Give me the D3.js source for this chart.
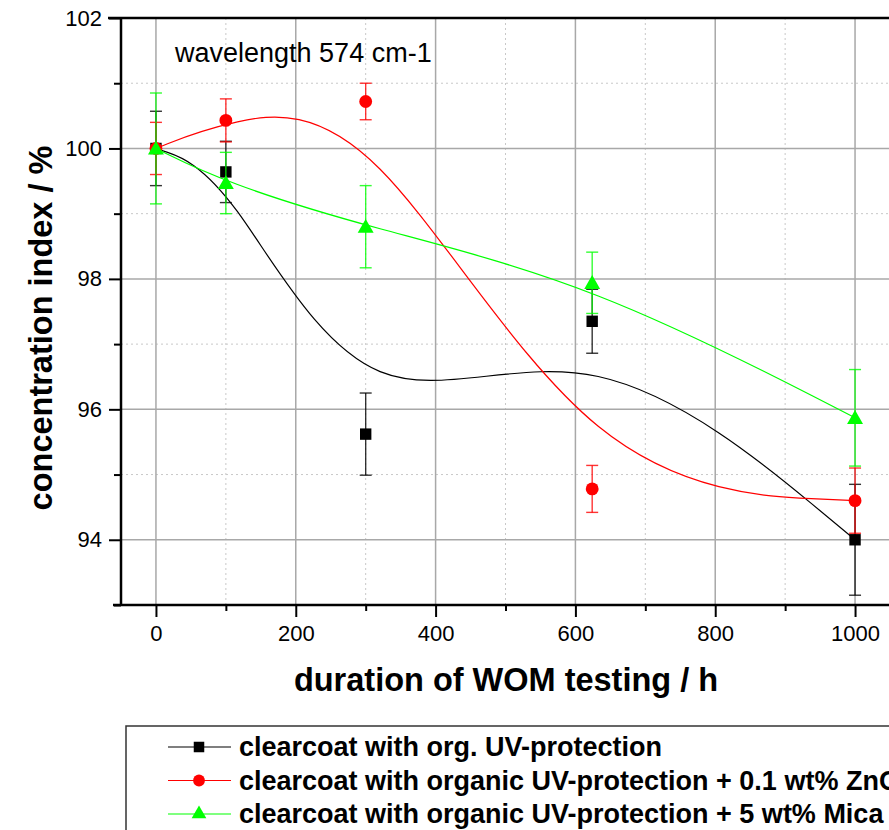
<!DOCTYPE html>
<html>
<head>
<meta charset="utf-8">
<script src="https://cdnjs.cloudflare.com/ajax/libs/d3/7.8.5/d3.min.js"></script>
<style>
  body { margin: 0; background: #fff; }
  svg { display: block; font-family: Arial, "Liberation Sans", sans-serif; }
</style>
</head>
<body>
<div id="chart"></div>
<script>
// values
var hours = [0, 100, 300, 624, 1000];
var orgUV = [100, 99.64, 95.62, 97.35, 94.0];
var orgUVErr = [0.57, 0.47, 0.63, 0.49, 0.85];
var zno = [100, 100.43, 100.72, 94.78, 94.6];
var znoErr = [0.4, 0.33, 0.28, 0.36, 0.5];
var mica = [100, 99.47, 98.8, 97.94, 95.87];
var micaErr = [0.85, 0.47, 0.63, 0.47, 0.74];

var xMajor = [0, 200, 400, 600, 800, 1000];
var xMinor = [100, 300, 500, 700, 900];
var yMajor = [94, 96, 98, 100, 102];
var yMinor = [93, 95, 97, 99, 101];

var seriesNames = [
  "clearcoat with org. UV-protection",
  "clearcoat with organic UV-protection + 0.1 wt% ZnO",
  "clearcoat with organic UV-protection + 5 wt% Mica"
];

var W = 889, H = 830;
var margin = {top: 18, right: -1, bottom: 225, left: 121};
var width = W - margin.left - margin.right,
    height = H - margin.top - margin.bottom;

var x = d3.scaleLinear().domain([-50, 1050]).range([0, width]);
var y = d3.scaleLinear().domain([93, 102]).range([height, 0]);

var svg = d3.select("#chart").append("svg")
    .attr("width", W)
    .attr("height", H);

var g = svg.append("g")
    .attr("transform", "translate(" + margin.left + "," + margin.top + ")");

// grid
g.selectAll(".vminor").data(xMinor).enter().append("line")
    .attr("x1", function(d) { return x(d); }).attr("x2", function(d) { return x(d); })
    .attr("y1", 0).attr("y2", height)
    .attr("stroke", "#c8c8c8").attr("stroke-width", 1).attr("stroke-dasharray", "2,3");
g.selectAll(".hminor").data(yMinor.filter(function(d){ return d > 93; })).enter().append("line")
    .attr("y1", function(d) { return y(d); }).attr("y2", function(d) { return y(d); })
    .attr("x1", 0).attr("x2", width)
    .attr("stroke", "#c8c8c8").attr("stroke-width", 1).attr("stroke-dasharray", "2,3");
g.selectAll(".vmajor").data(xMajor).enter().append("line")
    .attr("x1", function(d) { return x(d); }).attr("x2", function(d) { return x(d); })
    .attr("y1", 0).attr("y2", height)
    .attr("stroke", "#a8a8a8").attr("stroke-width", 1.5);
g.selectAll(".hmajor").data(yMajor.filter(function(d){ return d < 102; })).enter().append("line")
    .attr("y1", function(d) { return y(d); }).attr("y2", function(d) { return y(d); })
    .attr("x1", 0).attr("x2", width)
    .attr("stroke", "#a8a8a8").attr("stroke-width", 1.5);

// axes
var xAxis = d3.axisBottom(x).tickValues(xMajor).tickSize(12).tickPadding(8).tickFormat(d3.format("d"));
var xAxisMinor = d3.axisBottom(x).tickValues(xMinor).tickSize(6).tickFormat("");
var yAxis = d3.axisLeft(y).tickValues(yMajor).tickSize(12).tickPadding(7).tickFormat(d3.format("d"));
var yAxisMinor = d3.axisLeft(y).tickValues(yMinor).tickSize(7).tickFormat("");

function styleAxis(sel) {
  sel.select(".domain").attr("stroke", "#000").attr("stroke-width", 2.5);
  sel.selectAll(".tick line").attr("stroke", "#000").attr("stroke-width", 2);
  sel.selectAll(".tick text").attr("fill", "#000").style("font-size", "22px");
}

g.append("g").attr("transform", "translate(0," + height + ")").call(xAxisMinor).call(styleAxis);
g.append("g").attr("transform", "translate(0," + height + ")").call(xAxis).call(styleAxis);
g.append("g").call(yAxisMinor).call(styleAxis);
g.append("g").call(yAxis).call(styleAxis);
g.selectAll(".domain").attr("d", null);

// frame
g.append("line").attr("x1", 0).attr("x2", 0).attr("y1", 0).attr("y2", height)
    .attr("stroke", "#000").attr("stroke-width", 2.5);
g.append("line").attr("x1", -13).attr("x2", width).attr("y1", 0).attr("y2", 0)
    .attr("stroke", "#000").attr("stroke-width", 2.5);
g.append("line").attr("x1", -8).attr("x2", width).attr("y1", height).attr("y2", height)
    .attr("stroke", "#000").attr("stroke-width", 2.5);

// series
var series = [
  {name: seriesNames[0], vals: orgUV, err: orgUVErr, color: "#000000", sym: d3.symbolSquare, size: 130},
  {name: seriesNames[1], vals: zno, err: znoErr, color: "#ff0000", sym: d3.symbolCircle, size: 130},
  {name: seriesNames[2], vals: mica, err: micaErr, color: "#00ff00", sym: d3.symbolTriangle, size: 110}
];

var line = d3.line()
    .x(function(d) { return x(d[0]); })
    .y(function(d) { return y(d[1]); })
    .curve(d3.curveBasis);

series.forEach(function(s) {
  var pts = hours.map(function(h, i) { return [h, s.vals[i], s.err[i]]; });
  var sg = g.append("g");

  sg.append("path").datum(pts)
      .attr("d", line)
      .attr("fill", "none")
      .attr("stroke", s.color)
      .attr("stroke-width", 1.2);

  var eb = sg.selectAll(".err").data(pts).enter().append("g")
      .attr("stroke", s.color).attr("stroke-opacity", 0.8).attr("stroke-width", 1.4);
  eb.append("line")
      .attr("x1", function(d) { return x(d[0]); }).attr("x2", function(d) { return x(d[0]); })
      .attr("y1", function(d) { return y(d[1] - d[2]); }).attr("y2", function(d) { return y(d[1] + d[2]); });
  eb.append("line")
      .attr("x1", function(d) { return x(d[0]) - 6; }).attr("x2", function(d) { return x(d[0]) + 6; })
      .attr("y1", function(d) { return y(d[1] + d[2]); }).attr("y2", function(d) { return y(d[1] + d[2]); });
  eb.append("line")
      .attr("x1", function(d) { return x(d[0]) - 6; }).attr("x2", function(d) { return x(d[0]) + 6; })
      .attr("y1", function(d) { return y(d[1] - d[2]); }).attr("y2", function(d) { return y(d[1] - d[2]); });

  sg.selectAll(".pt").data(pts).enter().append("path")
      .attr("d", d3.symbol().type(s.sym).size(s.size))
      .attr("transform", function(d) {
        var dy = s.sym === d3.symbolTriangle ? 1.5 : 0;
        return "translate(" + x(d[0]) + "," + (y(d[1]) + dy) + ")";
      })
      .attr("fill", s.color);
});

// annotation
g.append("text")
    .attr("x", 54).attr("y", 44)
    .style("font-size", "27px")
    .text("wavelength 574 cm-1");

// axis titles
svg.append("text")
    .attr("x", 506).attr("y", 691)
    .attr("text-anchor", "middle")
    .style("font-size", "32.5px").style("font-weight", "bold")
    .text("duration of WOM testing / h");

svg.append("text")
    .attr("transform", "translate(52,328) rotate(-90)")
    .attr("text-anchor", "middle")
    .style("font-size", "32.5px").style("font-weight", "bold")
    .text("concentration index / %");

// legend
var leg = svg.append("g").attr("transform", "translate(126,726)");
leg.append("rect")
    .attr("x", 0).attr("y", 0).attr("width", 800).attr("height", 140)
    .attr("fill", "none").attr("stroke", "#333").attr("stroke-width", 1.5);

var rows = leg.selectAll(".row").data(series).enter().append("g")
    .attr("transform", function(d, i) { return "translate(0," + (21 + i * 33.5) + ")"; });
rows.append("line")
    .attr("x1", 42).attr("x2", 105).attr("y1", 0).attr("y2", 0)
    .attr("stroke", function(d) { return d.color; }).attr("stroke-width", 1.2);
rows.append("path")
    .attr("d", function(d) { return d3.symbol().type(d.sym).size(d.size * 0.85)(); })
    .attr("transform", "translate(73,0)")
    .attr("fill", function(d) { return d.color; });
rows.append("text")
    .attr("x", 113).attr("y", 9)
    .style("font-size", "27px").style("font-weight", "bold")
    .text(function(d) { return d.name; });
</script>
</body>
</html>
